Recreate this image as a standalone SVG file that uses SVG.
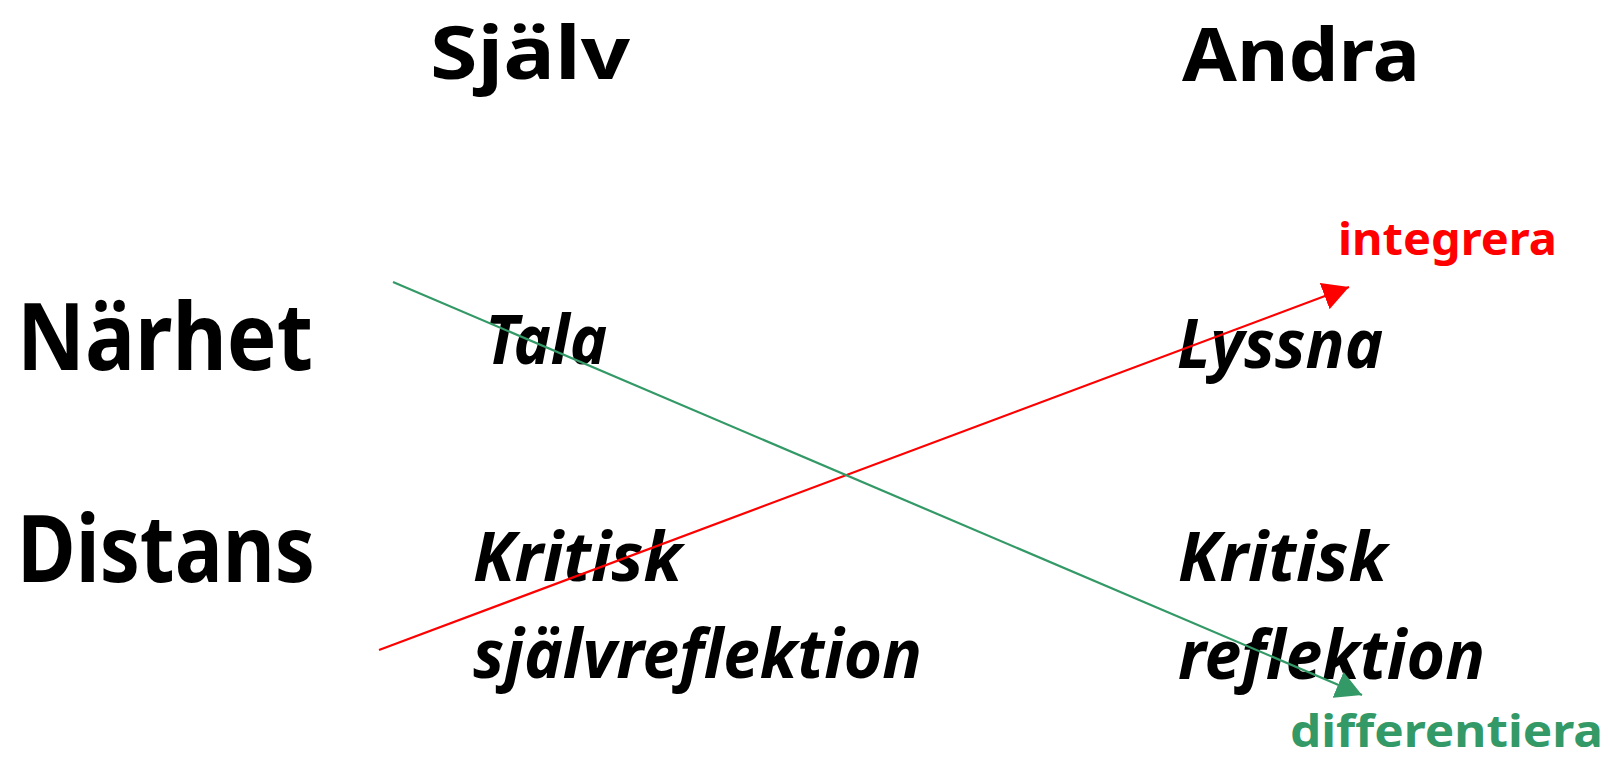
<svg xmlns="http://www.w3.org/2000/svg" width="1610" height="758" viewBox="0 0 1610 758">
<style>
text{font-family:"Noto Sans","DejaVu Sans",sans-serif;font-weight:bold;}
.hd{font-size:73px;fill:#000;}
.row{font-size:94px;fill:#000;}
.it{font-size:68px;font-style:italic;fill:#000;}
.lbl{font-size:44px;}
.red{fill:#ff0000;}
.grn{fill:#339966;}
</style>
<defs>
<marker id="arR" viewBox="0 0 26 28" refX="26" refY="14" markerWidth="26" markerHeight="28" markerUnits="userSpaceOnUse" orient="auto"><path d="M0,0 L26,14 L0,28 Z" fill="#ff0000"/></marker>
<marker id="arG" viewBox="0 0 26 28" refX="26" refY="14" markerWidth="26" markerHeight="28" markerUnits="userSpaceOnUse" orient="auto"><path d="M0,0 L26,14 L0,28 Z" fill="#339966"/></marker>
</defs>
<rect width="1610" height="758" fill="#fff"/>
<g id="sjalv"><text class="hd" x="430" y="79" textLength="200" lengthAdjust="spacingAndGlyphs">Själv</text></g>
<g id="andra"><text class="hd" x="1182" y="81" textLength="238" lengthAdjust="spacingAndGlyphs">Andra</text></g>
<g id="narhet"><text class="row" x="17" y="370" textLength="296" lengthAdjust="spacingAndGlyphs">Närhet</text></g>
<g id="distans"><text class="row" x="17" y="582" textLength="298" lengthAdjust="spacingAndGlyphs">Distans</text></g>
<g id="tala"><text class="it" x="485" y="364" textLength="122" lengthAdjust="spacingAndGlyphs">Tala</text></g>
<g id="lyssna"><text class="it" x="1177" y="368" textLength="206" lengthAdjust="spacingAndGlyphs">Lyssna</text></g>
<g id="kritisk-sjalv"><text class="it" x="473" y="581" textLength="209" lengthAdjust="spacingAndGlyphs">Kritisk</text><text class="it" x="473" y="678" textLength="449" lengthAdjust="spacingAndGlyphs">självreflektion</text></g>
<g id="kritisk-andra"><text class="it" x="1178" y="581" textLength="209" lengthAdjust="spacingAndGlyphs">Kritisk</text><text class="it" x="1178" y="679" textLength="307" lengthAdjust="spacingAndGlyphs">reflektion</text></g>
<g id="integrera"><text class="lbl red" x="1338" y="255" textLength="219" lengthAdjust="spacingAndGlyphs">integrera</text></g>
<g id="differentiera"><text class="lbl grn" x="1290" y="747" textLength="313" lengthAdjust="spacingAndGlyphs">differentiera</text></g>
<g id="connectors">
<line x1="379" y1="650" x2="1349" y2="287" stroke="#ff0000" stroke-width="2.2" marker-end="url(#arR)"/>
<line x1="393" y1="282" x2="1362" y2="695" stroke="#339966" stroke-width="2.2" marker-end="url(#arG)"/>
</g>
</svg>
